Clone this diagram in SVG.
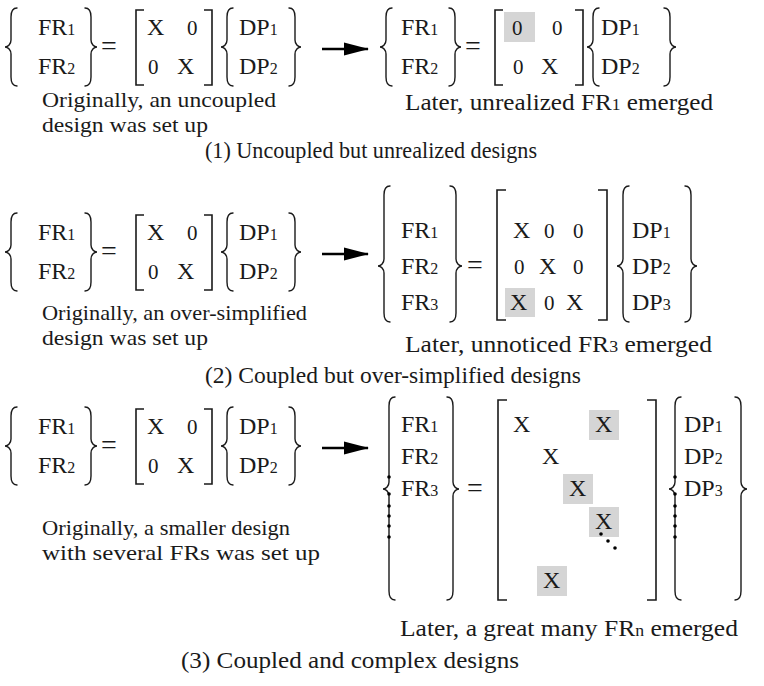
<svg xmlns="http://www.w3.org/2000/svg" width="764" height="686" viewBox="0 0 764 686">
<defs>
<style>
.t{font-family:"Liberation Serif","Times New Roman",serif;font-size:24px;fill:#1a1a1a}
.c{font-size:23px}
.cl{font-size:22px}
.s{font-size:16px}
.z{font-size:21px}
.eq{font-size:28px}
.br{fill:none;stroke:#1a1a1a;stroke-width:1.4;stroke-linecap:round}
.bk{fill:none;stroke:#1a1a1a;stroke-width:1.6}
.sh{fill:#d5d5d5}
.ar{stroke:#000;stroke-width:2.6;fill:none}
.dot{fill:#000}
</style>
<marker id="ah" markerUnits="userSpaceOnUse" markerWidth="26" markerHeight="16" refX="24" refY="8" orient="auto"><path d="M0,1.5 L25,8 L0,14.5 z" fill="#000"/></marker>
</defs>
<rect width="764" height="686" fill="#fff"/>

<!-- Section 1 left -->
<g id="s1-before">
<path class="br" d="M17,8 C13,8 11,11 11,17 L11,40 C11,44 8,47 5,47 C8,47 11,50 11,54 L11,77 C11,83 13,86 17,86"/>
<path class="br" d="M85,8 C89,8 91,11 91,17 L91,40 C91,44 94,47 97,47 C94,47 91,50 91,54 L91,77 C91,83 89,86 85,86"/>
<text class="t" x="38" y="35">FR<tspan class="s">1</tspan></text>
<text class="t" x="38" y="74">FR<tspan class="s">2</tspan></text>
<text class="t eq" x="101" y="55">=</text>
<path class="bk" d="M144,10 H136 V85 H144 M204,10 H212 V85 H204"/>
<text class="t" x="147" y="35">X</text>
<text class="t z" x="187" y="35">0</text>
<text class="t z" x="148" y="74">0</text>
<text class="t" x="177" y="74">X</text>
<path class="br" d="M233,8 C229,8 227,11 227,17 L227,40 C227,44 224,47 221,47 C224,47 227,50 227,54 L227,77 C227,83 229,86 233,86"/>
<path class="br" d="M289,8 C293,8 295,11 295,17 L295,40 C295,44 298,47 301,47 C298,47 295,50 295,54 L295,77 C295,83 293,86 289,86"/>
<text class="t" x="239" y="35">DP<tspan class="s">1</tspan></text>
<text class="t" x="239" y="74">DP<tspan class="s">2</tspan></text>
</g>

<!-- Section 1 right -->
<g id="s1-after">
<path class="br" d="M392,8 C388,8 386,11 386,17 L386,40 C386,44 383,47 380,47 C383,47 386,50 386,54 L386,77 C386,83 388,86 392,86"/>
<path class="br" d="M449,8 C453,8 455,11 455,17 L455,40 C455,44 458,47 461,47 C458,47 455,50 455,54 L455,77 C455,83 453,86 449,86"/>
<text class="t" x="401" y="35">FR<tspan class="s">1</tspan></text>
<text class="t" x="401" y="74">FR<tspan class="s">2</tspan></text>
<text class="t eq" x="465" y="55">=</text>
<path class="bk" d="M503,10 H495 V85 H503 M575,10 H583 V85 H575"/>
<rect class="sh" x="504" y="12" width="31" height="30"/>
<text class="t z" x="512" y="35">0</text>
<text class="t z" x="552" y="35">0</text>
<text class="t z" x="513" y="74">0</text>
<text class="t" x="541" y="74">X</text>
<path class="br" d="M599,8 C595,8 593,11 593,17 L593,40 C593,44 590,47 587,47 C590,47 593,50 593,54 L593,77 C593,83 595,86 599,86"/>
<path class="br" d="M664,8 C668,8 670,11 670,17 L670,40 C670,44 673,47 676,47 C673,47 670,50 670,54 L670,77 C670,83 668,86 664,86"/>
<text class="t" x="601" y="35">DP<tspan class="s">1</tspan></text>
<text class="t" x="601" y="74">DP<tspan class="s">2</tspan></text>
</g>

<g id="s1-captions">
<text class="t cl" x="42" y="107" textLength="234" lengthAdjust="spacingAndGlyphs">Originally, an uncoupled</text>
<text class="t cl" x="42" y="132" textLength="166" lengthAdjust="spacingAndGlyphs">design was set up</text>
<text class="t c" x="405" y="110" textLength="308" lengthAdjust="spacingAndGlyphs">Later, unrealized FR<tspan class="s">1</tspan> emerged</text>
<text class="t c" x="205" y="158" textLength="332" lengthAdjust="spacingAndGlyphs">(1) Uncoupled but unrealized designs</text>
</g>

<!-- Section 2 left -->
<g id="s2-before" transform="translate(0,205)">
<path class="br" d="M17,8 C13,8 11,11 11,17 L11,40 C11,44 8,47 5,47 C8,47 11,50 11,54 L11,77 C11,83 13,86 17,86"/>
<path class="br" d="M85,8 C89,8 91,11 91,17 L91,40 C91,44 94,47 97,47 C94,47 91,50 91,54 L91,77 C91,83 89,86 85,86"/>
<text class="t" x="38" y="35">FR<tspan class="s">1</tspan></text>
<text class="t" x="38" y="74">FR<tspan class="s">2</tspan></text>
<text class="t eq" x="101" y="55">=</text>
<path class="bk" d="M144,10 H136 V85 H144 M204,10 H212 V85 H204"/>
<text class="t" x="147" y="35">X</text>
<text class="t z" x="187" y="35">0</text>
<text class="t z" x="148" y="74">0</text>
<text class="t" x="177" y="74">X</text>
<path class="br" d="M233,8 C229,8 227,11 227,17 L227,40 C227,44 224,47 221,47 C224,47 227,50 227,54 L227,77 C227,83 229,86 233,86"/>
<path class="br" d="M289,8 C293,8 295,11 295,17 L295,40 C295,44 298,47 301,47 C298,47 295,50 295,54 L295,77 C295,83 293,86 289,86"/>
<text class="t" x="239" y="35">DP<tspan class="s">1</tspan></text>
<text class="t" x="239" y="74">DP<tspan class="s">2</tspan></text>
</g>

<!-- Section 2 right -->
<g id="s2-after">
<path class="br" d="M390,186 C386,186 384,189 384,195 L384,259 C384,263 381,266 378,266 C381,266 384,269 384,273 L384,313 C384,319 386,322 390,322"/>
<path class="br" d="M450,186 C454,186 456,189 456,195 L456,259 C456,263 459,266 462,266 C459,266 456,269 456,273 L456,313 C456,319 454,322 450,322"/>
<text class="t" x="401" y="238">FR<tspan class="s">1</tspan></text>
<text class="t" x="401" y="274">FR<tspan class="s">2</tspan></text>
<text class="t" x="401" y="310">FR<tspan class="s">3</tspan></text>
<text class="t eq" x="467" y="274">=</text>
<path class="bk" d="M506,190 H497 V320 H506 M598,190 H607 V320 H598"/>
<text class="t" x="513" y="238">X</text>
<text class="t z" x="544" y="238">0</text>
<text class="t z" x="573" y="238">0</text>
<text class="t z" x="514" y="274">0</text>
<text class="t" x="539" y="274">X</text>
<text class="t z" x="573" y="274">0</text>
<rect class="sh" x="505" y="288" width="30" height="29"/>
<text class="t" x="510" y="310">X</text>
<text class="t z" x="544" y="310">0</text>
<text class="t" x="566" y="310">X</text>
<path class="br" d="M629,186 C625,186 623,189 623,195 L623,259 C623,263 620,266 617,266 C620,266 623,269 623,273 L623,313 C623,319 625,322 629,322"/>
<path class="br" d="M685,186 C689,186 691,189 691,195 L691,259 C691,263 694,266 697,266 C694,266 691,269 691,273 L691,313 C691,319 689,322 685,322"/>
<text class="t" x="632" y="238">DP<tspan class="s">1</tspan></text>
<text class="t" x="632" y="274">DP<tspan class="s">2</tspan></text>
<text class="t" x="632" y="310">DP<tspan class="s">3</tspan></text>
</g>

<g id="s2-captions">
<text class="t cl" x="42" y="320" textLength="265" lengthAdjust="spacingAndGlyphs">Originally, an over-simplified</text>
<text class="t cl" x="42" y="345" textLength="166" lengthAdjust="spacingAndGlyphs">design was set up</text>
<text class="t c" x="405" y="352" textLength="307" lengthAdjust="spacingAndGlyphs">Later, unnoticed FR<tspan class="s">3</tspan> emerged</text>
<text class="t c" x="205" y="383" textLength="376" lengthAdjust="spacingAndGlyphs">(2) Coupled but over-simplified designs</text>
</g>

<!-- Section 3 left -->
<g id="s3-before" transform="translate(0,399)">
<path class="br" d="M17,8 C13,8 11,11 11,17 L11,40 C11,44 8,47 5,47 C8,47 11,50 11,54 L11,77 C11,83 13,86 17,86"/>
<path class="br" d="M85,8 C89,8 91,11 91,17 L91,40 C91,44 94,47 97,47 C94,47 91,50 91,54 L91,77 C91,83 89,86 85,86"/>
<text class="t" x="38" y="35">FR<tspan class="s">1</tspan></text>
<text class="t" x="38" y="74">FR<tspan class="s">2</tspan></text>
<text class="t eq" x="101" y="55">=</text>
<path class="bk" d="M144,10 H136 V85 H144 M204,10 H212 V85 H204"/>
<text class="t" x="147" y="35">X</text>
<text class="t z" x="187" y="35">0</text>
<text class="t z" x="148" y="74">0</text>
<text class="t" x="177" y="74">X</text>
<path class="br" d="M233,8 C229,8 227,11 227,17 L227,40 C227,44 224,47 221,47 C224,47 227,50 227,54 L227,77 C227,83 229,86 233,86"/>
<path class="br" d="M289,8 C293,8 295,11 295,17 L295,40 C295,44 298,47 301,47 C298,47 295,50 295,54 L295,77 C295,83 293,86 289,86"/>
<text class="t" x="239" y="35">DP<tspan class="s">1</tspan></text>
<text class="t" x="239" y="74">DP<tspan class="s">2</tspan></text>
</g>

<!-- Section 3 right -->
<g id="s3-after">
<path class="br" d="M395,397 C391,397 389,400 389,406 L389,482 C389,486 386,489 383,489 C386,489 389,492 389,496 L389,591 C389,597 391,600 395,600"/>
<g class="dot"><circle cx="389" cy="477" r="1.8"/><circle cx="389" cy="494" r="1.8"/><circle cx="389" cy="506" r="1.8"/><circle cx="389" cy="516" r="1.8"/><circle cx="389" cy="526" r="1.8"/><circle cx="389" cy="537" r="1.8"/></g>
<path class="br" d="M447,397 C451,397 453,400 453,406 L453,482 C453,486 456,489 459,489 C456,489 453,492 453,496 L453,591 C453,597 451,600 447,600"/>
<text class="t" x="401" y="432">FR<tspan class="s">1</tspan></text>
<text class="t" x="401" y="464">FR<tspan class="s">2</tspan></text>
<text class="t" x="401" y="496">FR<tspan class="s">3</tspan></text>
<text class="t eq" x="467" y="497">=</text>
<path class="bk" d="M507,400 H498 V600 H507 M647,400 H656 V600 H647"/>
<text class="t" x="513" y="432">X</text>
<rect class="sh" x="589" y="410" width="30" height="30"/>
<text class="t" x="595" y="432">X</text>
<text class="t" x="542" y="464">X</text>
<rect class="sh" x="563" y="474" width="30" height="30"/>
<text class="t" x="569" y="496">X</text>
<rect class="sh" x="589" y="507" width="30" height="30"/>
<text class="t" x="595" y="529">X</text>
<g class="dot"><circle cx="601" cy="534" r="1.8"/><circle cx="608" cy="541" r="1.8"/><circle cx="615" cy="548" r="1.8"/></g>
<rect class="sh" x="537" y="566" width="30" height="30"/>
<text class="t" x="543" y="588">X</text>
<path class="br" d="M681,397 C677,397 675,400 675,406 L675,482 C675,486 672,489 669,489 C672,489 675,492 675,496 L675,591 C675,597 677,600 681,600"/>
<g class="dot"><circle cx="675" cy="477" r="1.8"/><circle cx="675" cy="494" r="1.8"/><circle cx="675" cy="506" r="1.8"/><circle cx="675" cy="516" r="1.8"/><circle cx="675" cy="526" r="1.8"/><circle cx="675" cy="537" r="1.8"/></g>
<path class="br" d="M735,397 C739,397 741,400 741,406 L741,482 C741,486 744,489 747,489 C744,489 741,492 741,496 L741,591 C741,597 739,600 735,600"/>
<text class="t" x="684" y="432">DP<tspan class="s">1</tspan></text>
<text class="t" x="684" y="464">DP<tspan class="s">2</tspan></text>
<text class="t" x="684" y="496">DP<tspan class="s">3</tspan></text>
</g>

<g id="s3-captions">
<text class="t cl" x="42" y="535" textLength="248" lengthAdjust="spacingAndGlyphs">Originally, a smaller design</text>
<text class="t cl" x="42" y="560" textLength="278" lengthAdjust="spacingAndGlyphs">with several FRs was set up</text>
<text class="t c" x="400" y="636" textLength="338" lengthAdjust="spacingAndGlyphs">Later, a great many FR<tspan class="s">n</tspan> emerged</text>
<text class="t c" x="181" y="668" textLength="338" lengthAdjust="spacingAndGlyphs">(3) Coupled and complex designs</text>
</g>

<g id="connectors">
<line class="ar" x1="322" y1="49" x2="368" y2="49" marker-end="url(#ah)"/>
<line class="ar" x1="322" y1="254" x2="368" y2="254" marker-end="url(#ah)"/>
<line class="ar" x1="322" y1="448" x2="368" y2="448" marker-end="url(#ah)"/>
</g>
</svg>
